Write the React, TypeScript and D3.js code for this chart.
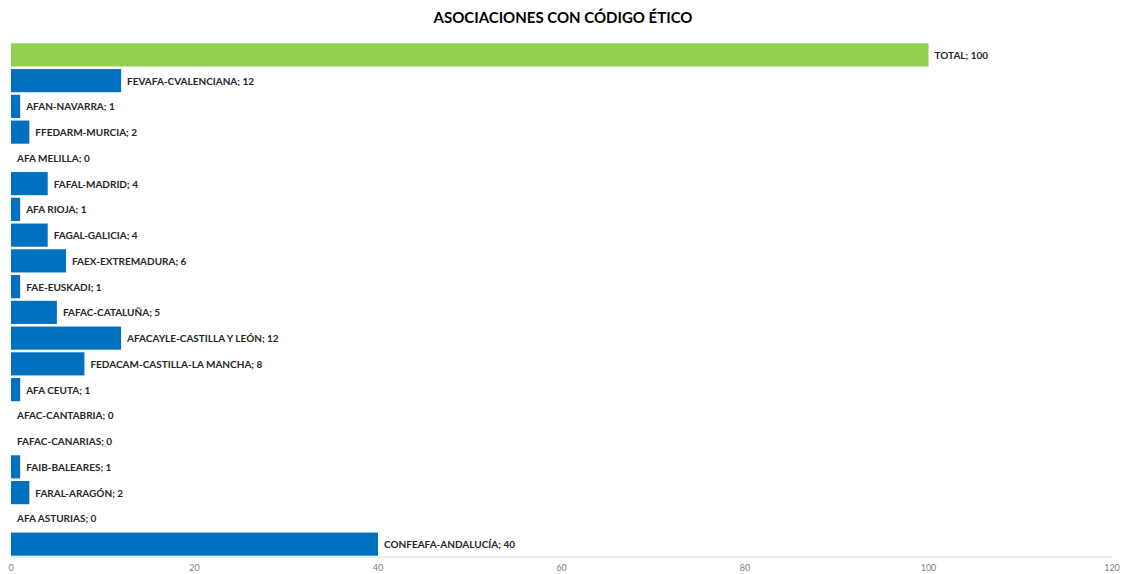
import React from "react";
import * as d3 from "d3";

const categories = [
  "TOTAL",
  "FEVAFA-CVALENCIANA",
  "AFAN-NAVARRA",
  "FFEDARM-MURCIA",
  "AFA MELILLA",
  "FAFAL-MADRID",
  "AFA RIOJA",
  "FAGAL-GALICIA",
  "FAEX-EXTREMADURA",
  "FAE-EUSKADI",
  "FAFAC-CATALUÑA",
  "AFACAYLE-CASTILLA Y LEÓN",
  "FEDACAM-CASTILLA-LA MANCHA",
  "AFA CEUTA",
  "AFAC-CANTABRIA",
  "FAFAC-CANARIAS",
  "FAIB-BALEARES",
  "FARAL-ARAGÓN",
  "AFA ASTURIAS",
  "CONFEAFA-ANDALUCÍA",
];
const values = [100, 12, 1, 2, 0, 4, 1, 4, 6, 1, 5, 12, 8, 1, 0, 0, 1, 2, 0, 40];
const xTicks = [0, 20, 40, 60, 80, 100, 120];
const title = "ASOCIACIONES CON CÓDIGO ÉTICO";

export default function App() {
  const W = 1126;
  const H = 574;
  const x = d3.scaleLinear().domain([0, 120]).range([11, 1112]);
  const y = d3.scaleBand<string>().domain(categories).range([42, 557]).paddingInner(0.1).paddingOuter(0.05);
  const font = "Lato, 'Open Sans', sans-serif";
  return (
    <svg width={W} height={H} style={{ position: "absolute", left: 0, top: 0, background: "#fff" }}>
      <text x={563} y={23} textAnchor="middle" fontFamily={font} fontWeight={700} fontSize={15} fill="#000">
        {title}
      </text>
      {categories.map((c, i) => (
        <rect
          key={c}
          x={x(0)}
          y={y(c)}
          width={x(values[i]) - x(0)}
          height={y.bandwidth()}
          fill={i === 0 ? "#92D050" : "#0070C0"}
        />
      ))}
      {categories.map((c, i) => (
        <text
          key={"l" + c}
          x={x(values[i]) + 6}
          y={(y(c) as number) + y.bandwidth() / 2}
          dominantBaseline="central"
          fontFamily={font}
          fontWeight={700}
          fontSize={10}
          fill="#262626"
        >
          {c}; {values[i]}
        </text>
      ))}
      <line x1={x(0)} x2={x(120)} y1={557} y2={557} stroke="#d9d9d9" strokeWidth={1} />
      {xTicks.map((t) => (
        <text key={t} x={x(t)} y={571} textAnchor="middle" fontFamily={font} fontSize={9} fill="#7f7f7f">
          {t}
        </text>
      ))}
    </svg>
  );
}
